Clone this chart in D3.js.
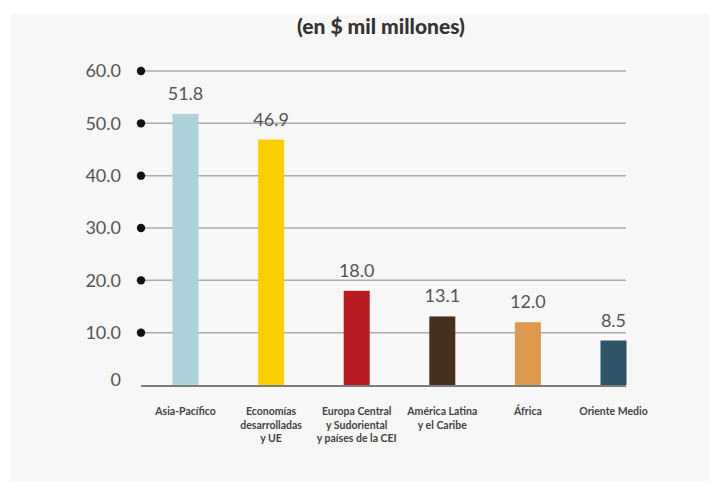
<!DOCTYPE html>
<html>
<head>
<meta charset="utf-8">
<script src="https://cdn.jsdelivr.net/npm/d3@7"></script>
<style>
  body { margin: 0; background: #fff; }
  text { font-family: Lato, "Open Sans", sans-serif; }
</style>
</head>
<body>
<div id="chart"></div>
<script>
// Data
var categories = [
  ["Asia-Pacífico"],
  ["Economías", "desarrolladas", "y UE"],
  ["Europa Central", "y Sudoriental", "y países de la CEI"],
  ["América Latina", "y el Caribe"],
  ["África"],
  ["Oriente Medio"]
];
var values = [51.8, 46.9, 18.0, 13.1, 12.0, 8.5];
var barColors = ["#abd3d9", "#fccf00", "#b81c22", "#463120", "#dd9a4c", "#2b5566"];
var yTicks = [0, 10, 20, 30, 40, 50, 60];
var yTickLabels = ["0", "10.0", "20.0", "30.0", "40.0", "50.0", "60.0"];

var W = 709, H = 481;

var svg = d3.select("#chart")
    .append("svg")
    .attr("width", W)
    .attr("height", H);

// panel background
svg.append("rect")
    .attr("x", 11)
    .attr("y", 14)
    .attr("width", W - 11)
    .attr("height", H - 14)
    .attr("fill", "#f7f7f7");

// title
svg.append("text")
    .attr("x", 381)
    .attr("y", 34)
    .attr("text-anchor", "middle")
    .attr("font-size", 21)
    .attr("font-weight", 900)
    .attr("fill", "#333")
    .text("(en $ mil millones)");

// scales
var idx = values.map(function (d, i) { return i; });
var x = d3.scalePoint()
    .domain(idx)
    .range([185.5, 613.5]);

var y = d3.scaleLinear()
    .domain([0, 60])
    .range([385, 71]);

var barW = 26;

// gridlines (not 0)
svg.selectAll(".grid")
    .data(yTicks.filter(function (d) { return d > 0; }))
    .enter()
    .append("line")
    .attr("x1", 145)
    .attr("x2", 626)
    .attr("y1", function (d) { return y(d); })
    .attr("y2", function (d) { return y(d); })
    .attr("stroke", "#ababab")
    .attr("stroke-width", 1.5);

// dots
svg.selectAll(".dot")
    .data(yTicks.filter(function (d) { return d > 0; }))
    .enter()
    .append("circle")
    .attr("cx", 141)
    .attr("cy", function (d) { return y(d); })
    .attr("r", 4.2)
    .attr("fill", "#111");

// y labels
svg.selectAll(".ylab")
    .data(yTicks)
    .enter()
    .append("text")
    .attr("x", 121)
    .attr("y", function (d) { return d === 0 ? y(d) - 5 : y(d); })
    .attr("dy", "0.35em")
    .attr("text-anchor", "end")
    .attr("font-size", 18)
    .attr("fill", "#555")
    .text(function (d, i) { return yTickLabels[i]; });

// bars
svg.selectAll(".bar")
    .data(values)
    .enter()
    .append("rect")
    .attr("x", function (d, i) { return x(i) - barW / 2; })
    .attr("y", function (d) { return y(d); })
    .attr("width", barW)
    .attr("height", function (d) { return y(0) - y(d); })
    .attr("fill", function (d, i) { return barColors[i]; });

// baseline
svg.append("line")
    .attr("x1", 141)
    .attr("x2", 626)
    .attr("y1", y(0) + 1)
    .attr("y2", y(0) + 1)
    .attr("stroke", "#555")
    .attr("stroke-width", 1.5);

// value labels
svg.selectAll(".vlab")
    .data(values)
    .enter()
    .append("text")
    .attr("x", function (d, i) { return x(i); })
    .attr("y", function (d) { return y(d) - 14; })
    .attr("text-anchor", "middle")
    .attr("font-size", 18)
    .attr("fill", "#555")
    .text(function (d) { return d.toFixed(1); });

// category labels
var cat = svg.selectAll(".cat")
    .data(categories)
    .enter()
    .append("text")
    .attr("text-anchor", "middle")
    .attr("font-size", 10.5)
    .attr("font-weight", "bold")
    .attr("fill", "#444");

cat.selectAll("tspan")
    .data(function (d, i) { return d.map(function (s) { return { s: s, i: i }; }); })
    .enter()
    .append("tspan")
    .attr("x", function (d) { return x(d.i); })
    .attr("y", function (d, j) { return 415 + j * 13.5; })
    .text(function (d) { return d.s; });
</script>
</body>
</html>
